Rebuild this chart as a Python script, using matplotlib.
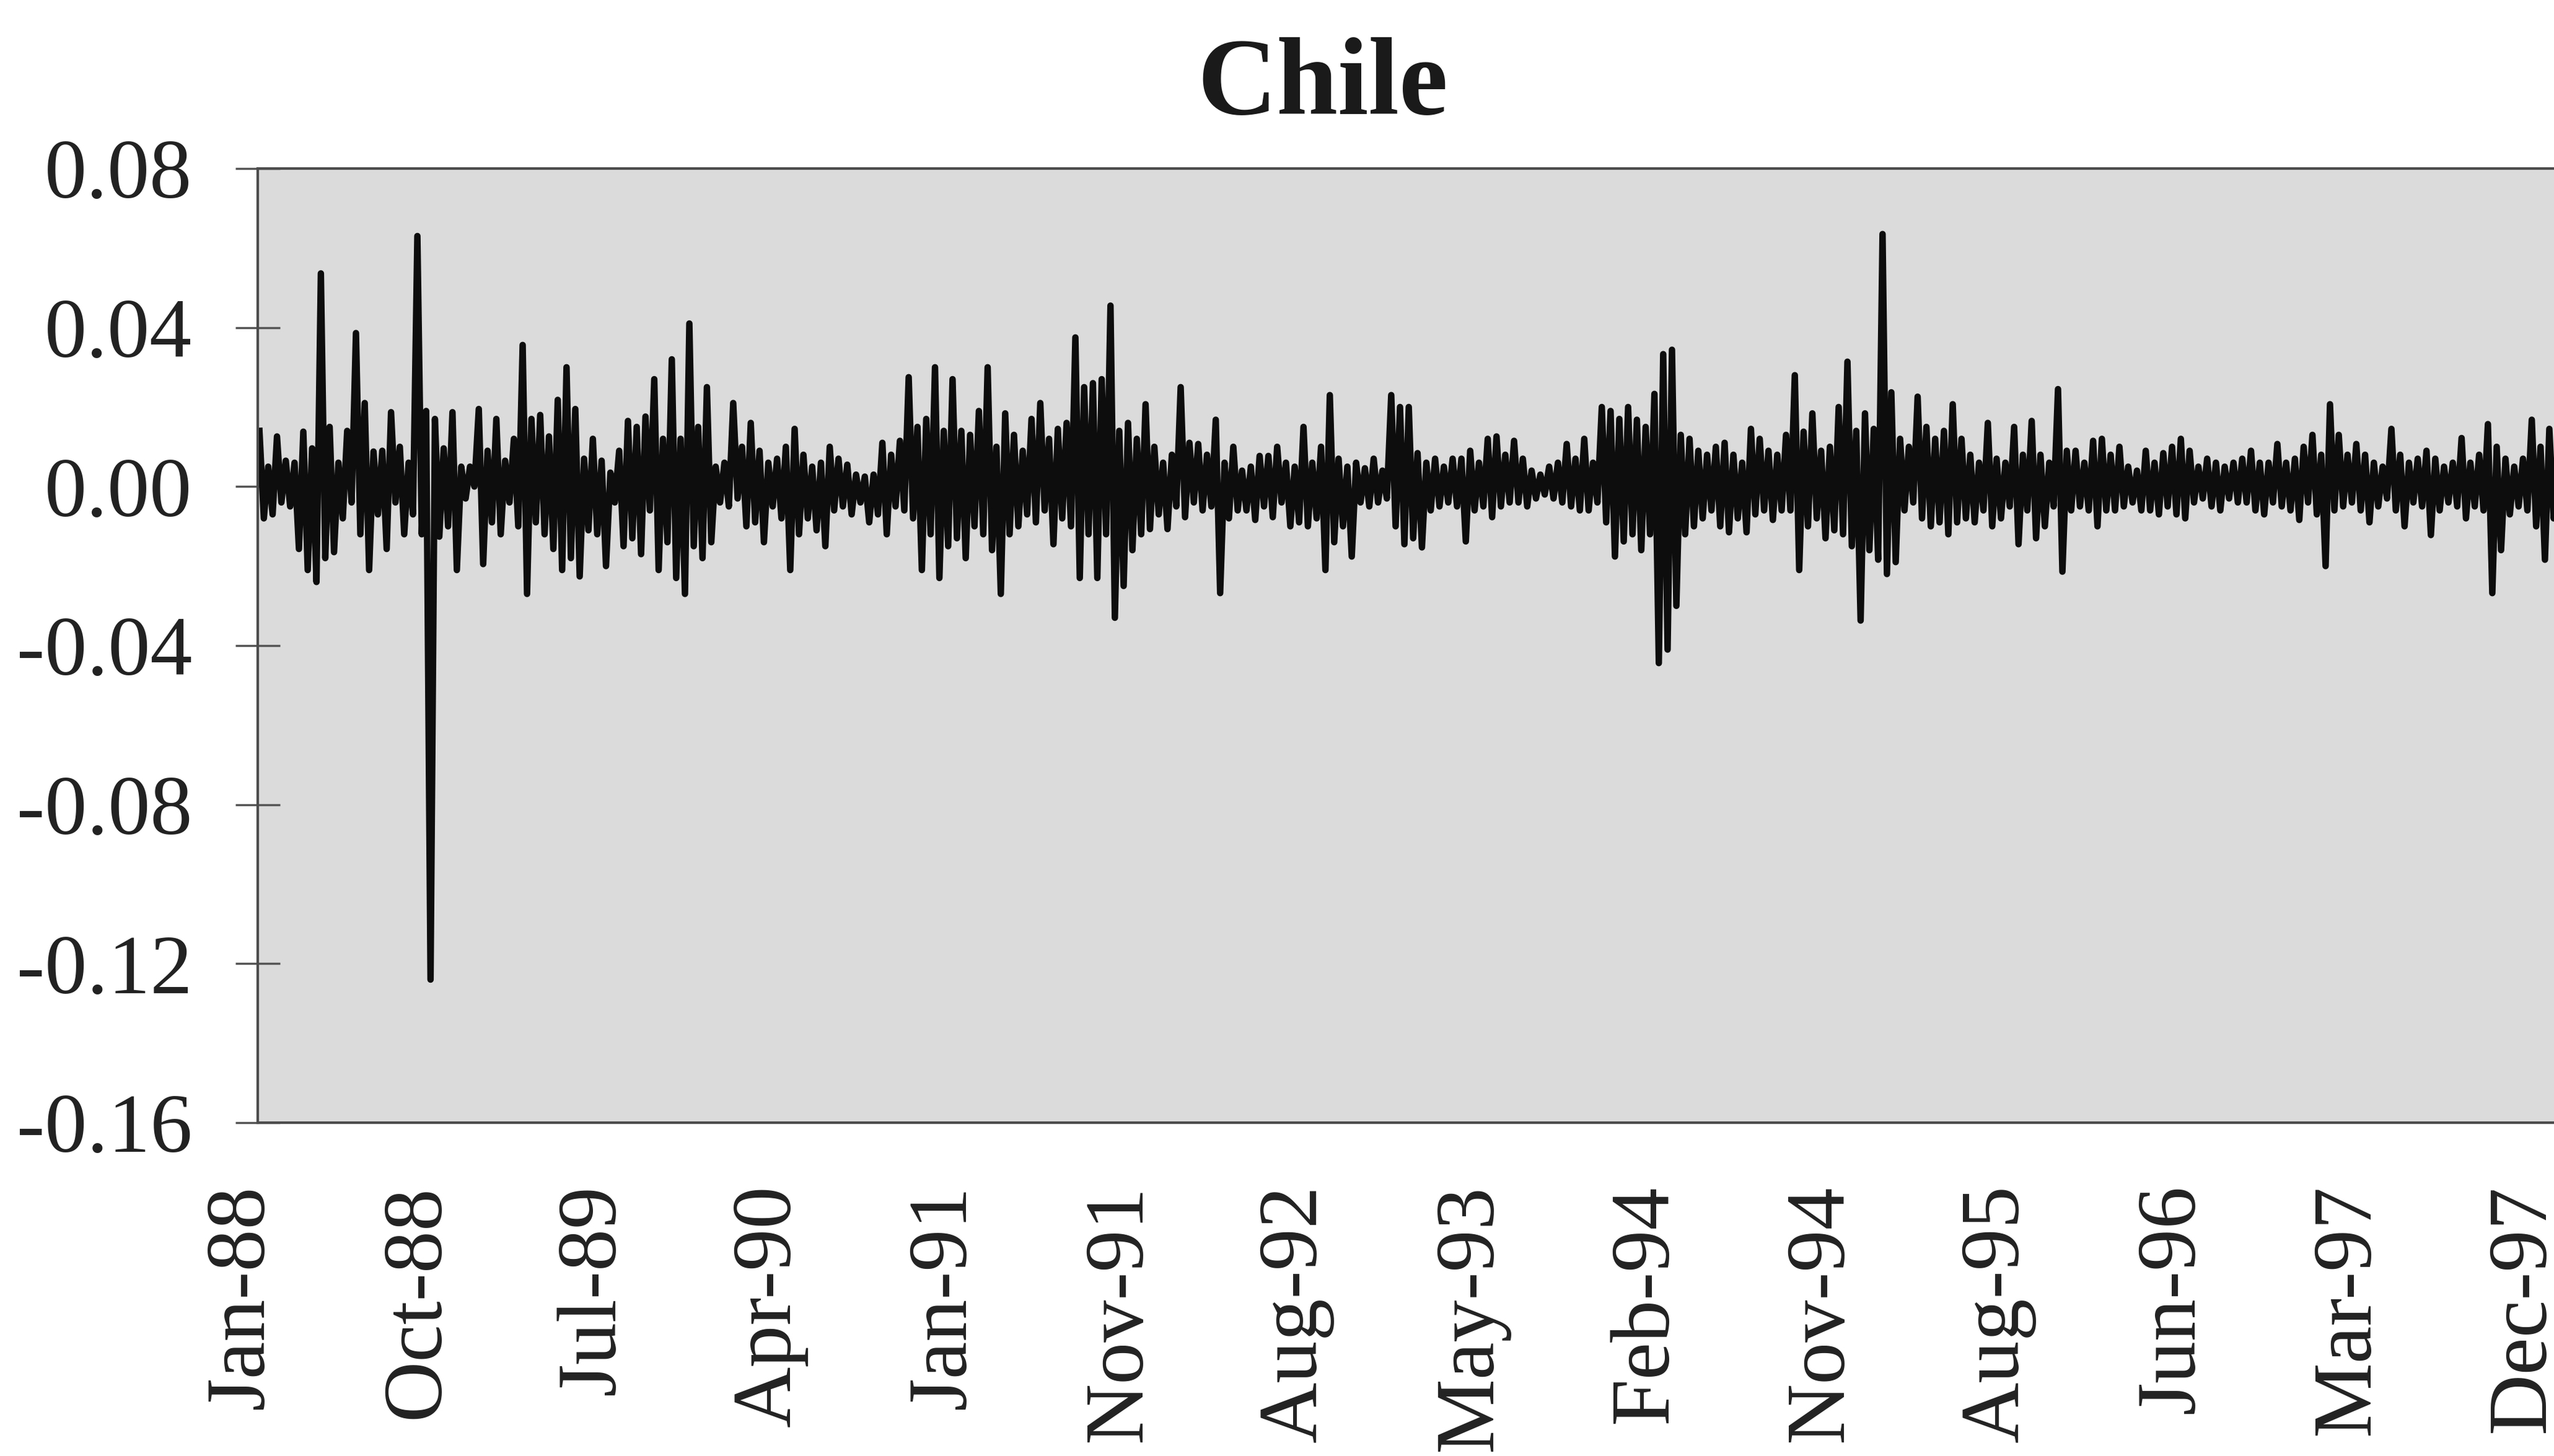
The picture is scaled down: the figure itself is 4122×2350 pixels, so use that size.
#! /usr/bin/env python3

import numpy as np
import matplotlib
matplotlib.use("Agg")
import matplotlib.pyplot as plt
from matplotlib.transforms import ScaledTranslation, blended_transform_factory

plt.rcParams['font.family'] = ['Liberation Serif', 'DejaVu Serif']

title = "Chile"
tick_labels = ["Jan-88", "Oct-88", "Jul-89", "Apr-90", "Jan-91", "Nov-91", "Aug-92",
               "May-93", "Feb-94", "Nov-94", "Aug-95", "Jun-96", "Mar-97", "Dec-97"]
label_step = 200   # trading days between category labels
col_step = 10      # trading days per high/low reading

# daily returns: highest and lowest value in each 10-day block
hi = [0.014, 0.005, 0.0126, 0.0065, 0.006, 0.0138, 0.0096, 0.0536, 0.015, 0.006,
      0.014, 0.0386, 0.021, 0.0088, 0.009, 0.0187, 0.010, 0.006, 0.063, 0.019,
      0.017, 0.0096, 0.0187, 0.005, 0.005, 0.0195, 0.009, 0.017, 0.0065, 0.012,
      0.0356, 0.017, 0.018, 0.0126, 0.0218, 0.030, 0.0195, 0.007, 0.012, 0.0065,
      0.0035, 0.009, 0.0165, 0.015, 0.0176, 0.027, 0.012, 0.032, 0.012, 0.041,
      0.015, 0.025, 0.005, 0.006, 0.021, 0.010, 0.016, 0.009, 0.006, 0.007,
      0.010, 0.0145, 0.008, 0.005, 0.006, 0.010, 0.007, 0.0055, 0.003, 0.0025,
      0.003, 0.011, 0.008, 0.0115, 0.0275, 0.015, 0.017, 0.030, 0.014, 0.027,
      0.014, 0.013, 0.019, 0.030, 0.010, 0.0184, 0.013, 0.009, 0.017, 0.021,
      0.012, 0.0145, 0.016, 0.0375, 0.025, 0.026, 0.027, 0.0455, 0.014, 0.016,
      0.012, 0.0207, 0.010, 0.006, 0.008, 0.025, 0.011, 0.0107, 0.008, 0.0168,
      0.006, 0.010, 0.004, 0.005, 0.0077, 0.0077, 0.010, 0.006, 0.005, 0.015,
      0.006, 0.010, 0.023, 0.007, 0.005, 0.006, 0.0046, 0.007, 0.004, 0.023,
      0.020, 0.020, 0.0084, 0.006, 0.007, 0.005, 0.007, 0.007, 0.009, 0.006,
      0.012, 0.0126, 0.008, 0.0115, 0.007, 0.004, 0.003, 0.005, 0.006, 0.0107,
      0.007, 0.012, 0.006, 0.020, 0.019, 0.017, 0.020, 0.0168, 0.015, 0.0233,
      0.0333, 0.0344, 0.013, 0.012, 0.009, 0.008, 0.010, 0.011, 0.008, 0.006,
      0.0145, 0.012, 0.009, 0.008, 0.013, 0.028, 0.0138, 0.0184, 0.009, 0.010,
      0.020, 0.0314, 0.014, 0.0184, 0.0145, 0.0635, 0.0237, 0.012, 0.010, 0.0226,
      0.015, 0.012, 0.014, 0.0207, 0.012, 0.008, 0.006, 0.016, 0.007, 0.006,
      0.015, 0.008, 0.0165, 0.008, 0.006, 0.0245, 0.009, 0.009, 0.006, 0.0115,
      0.012, 0.008, 0.010, 0.005, 0.004, 0.009, 0.006, 0.0084, 0.010, 0.012,
      0.009, 0.005, 0.007, 0.006, 0.005, 0.006, 0.007, 0.009, 0.006, 0.006,
      0.0107, 0.006, 0.007, 0.010, 0.013, 0.008, 0.0207, 0.013, 0.008, 0.0107,
      0.008, 0.006, 0.005, 0.0145, 0.008, 0.006, 0.007, 0.009, 0.007, 0.005,
      0.006, 0.0122, 0.006, 0.008, 0.0157, 0.010, 0.007, 0.005, 0.007, 0.0168,
      0.010, 0.0145, 0.019]

lo = [-0.008, -0.007, -0.004, -0.005, -0.0157, -0.021, -0.024, -0.018, -0.0165, -0.008,
      -0.004, -0.012, -0.021, -0.007, -0.0157, -0.004, -0.012, -0.007, -0.012, -0.124,
      -0.0126, -0.010, -0.021, -0.003, 0.000, -0.0195, -0.009, -0.012, -0.004, -0.010,
      -0.027, -0.009, -0.012, -0.0157, -0.021, -0.018, -0.0226, -0.011, -0.012, -0.020,
      -0.004, -0.015, -0.013, -0.017, -0.006, -0.021, -0.014, -0.023, -0.027, -0.015,
      -0.018, -0.014, -0.004, -0.005, -0.003, -0.010, -0.009, -0.014, -0.005, -0.008,
      -0.021, -0.012, -0.008, -0.011, -0.015, -0.006, -0.005, -0.007, -0.004, -0.009,
      -0.007, -0.012, -0.005, -0.006, -0.008, -0.021, -0.012, -0.023, -0.015, -0.013,
      -0.018, -0.010, -0.012, -0.016, -0.027, -0.012, -0.010, -0.007, -0.009, -0.006,
      -0.0145, -0.008, -0.010, -0.023, -0.012, -0.023, -0.012, -0.033, -0.025, -0.016,
      -0.012, -0.0107, -0.007, -0.0107, -0.005, -0.0077, -0.004, -0.006, -0.005, -0.0268,
      -0.008, -0.006, -0.006, -0.0084, -0.005, -0.0077, -0.004, -0.010, -0.009, -0.010,
      -0.008, -0.021, -0.014, -0.010, -0.0176, -0.004, -0.005, -0.004, -0.003, -0.010,
      -0.0145, -0.013, -0.0153, -0.006, -0.005, -0.004, -0.005, -0.0138, -0.006, -0.005,
      -0.0077, -0.005, -0.004, -0.004, -0.005, -0.003, -0.002, -0.003, -0.004, -0.005,
      -0.006, -0.006, -0.004, -0.009, -0.0176, -0.0138, -0.012, -0.016, -0.012, -0.0444,
      -0.041, -0.030, -0.012, -0.010, -0.008, -0.006, -0.010, -0.0115, -0.008, -0.0115,
      -0.007, -0.006, -0.0084, -0.006, -0.006, -0.021, -0.010, -0.008, -0.013, -0.011,
      -0.012, -0.015, -0.0337, -0.016, -0.0184, -0.022, -0.019, -0.006, -0.004, -0.008,
      -0.010, -0.009, -0.012, -0.009, -0.008, -0.009, -0.006, -0.010, -0.008, -0.005,
      -0.0145, -0.006, -0.013, -0.010, -0.005, -0.0214, -0.006, -0.005, -0.006, -0.010,
      -0.006, -0.006, -0.005, -0.004, -0.006, -0.006, -0.007, -0.005, -0.007, -0.008,
      -0.004, -0.003, -0.005, -0.006, -0.003, -0.004, -0.004, -0.006, -0.007, -0.004,
      -0.005, -0.006, -0.0084, -0.004, -0.007, -0.020, -0.006, -0.005, -0.004, -0.006,
      -0.009, -0.005, -0.003, -0.006, -0.010, -0.004, -0.005, -0.0122, -0.006, -0.004,
      -0.005, -0.008, -0.005, -0.006, -0.0268, -0.016, -0.007, -0.005, -0.006, -0.010,
      -0.0184, -0.008, -0.010]

yticks = [-0.16, -0.12, -0.08, -0.04, 0.00, 0.04, 0.08]

# interleave highs and lows into one daily-style line
n = min(len(hi), len(lo))
day = np.empty(2 * n)
day[0::2] = np.arange(n) * col_step + 2
day[1::2] = np.arange(n) * col_step + 7
ret = np.empty(2 * n)
ret[0::2] = hi[:n]
ret[1::2] = lo[:n]

fig = plt.figure(figsize=(41.22, 23.5), dpi=100)
ax = fig.add_axes([0.1009, 0.2289, 0.9275, 0.6554])
ax.set_facecolor('#dbdbdb')
ax.plot(day, ret, color='#0d0d0d', lw=7.5)

ax.set_xlim(0, 2700)
ax.set_ylim(-0.16, 0.08)

ax.set_yticks(yticks)
ax.set_yticklabels([f"{v:.2f}" for v in yticks])
ax.set_xticks([])

# category labels, rotated, hanging under the axis
trans = blended_transform_factory(ax.transData, ax.transAxes) + \
    ScaledTranslation(-24 / 100, -100 / 100, fig.dpi_scale_trans)
for k, lab in enumerate(tick_labels):
    ax.text(k * label_step, 0, lab, transform=trans, rotation=90, ha='center',
            va='top', fontsize=98, color='#222222', clip_on=False)

for s in ax.spines.values():
    s.set_color('#4d4d4d')
    s.set_linewidth(3)

ax.tick_params(axis='y', direction='inout', length=52, width=2.5, color='#555555',
               pad=50, labelsize=98, labelcolor='#222222')

fig.text(0.518, 0.9217, title, ha='center', va='baseline', fontsize=128,
         fontweight='bold', color='#1a1a1a')

fig.savefig('out.png', dpi=100, facecolor='white')
